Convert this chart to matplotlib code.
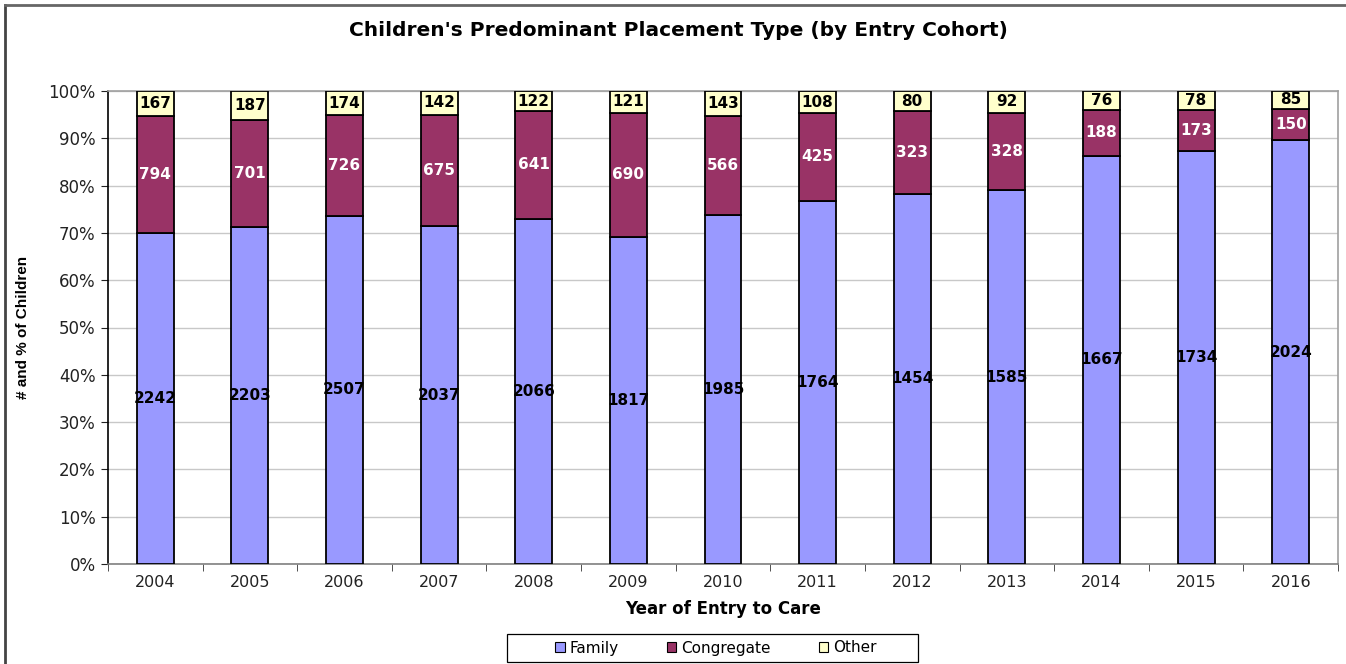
import matplotlib
matplotlib.use("Agg")
import matplotlib.pyplot as plt
from matplotlib.lines import Line2D
from matplotlib.patches import Rectangle
from matplotlib.ticker import FuncFormatter, FixedLocator
import numpy as np

plt.rcParams['font.family'] = ['DejaVu Sans']

years = ["2004", "2005", "2006", "2007", "2008", "2009", "2010",
         "2011", "2012", "2013", "2014", "2015", "2016"]
family = [2242, 2203, 2507, 2037, 2066, 1817, 1985, 1764, 1454, 1585, 1667, 1734, 2024]
congregate = [794, 701, 726, 675, 641, 690, 566, 425, 323, 328, 188, 173, 150]
other = [167, 187, 174, 142, 122, 121, 143, 108, 80, 92, 76, 78, 85]

series = [("Family", family, "#9999FF", "black"),
          ("Congregate", congregate, "#993366", "white"),
          ("Other", other, "#FFFFCC", "black")]

counts = np.array([family, congregate, other], dtype=float)
totals = counts.sum(axis=0)
pct = counts / totals

fig = plt.figure(figsize=(13.46, 6.64), dpi=100)
ax = fig.add_axes([108/1346, 1 - 564/664, (1338 - 108)/1346, (564 - 91)/664])

x = np.arange(len(years))
bottom = np.zeros(len(years))
for i, (name, vals, color, tcolor) in enumerate(series):
    ax.bar(x, pct[i], width=0.39, bottom=bottom, color=color,
           edgecolor="black", linewidth=1.3, label=name, zorder=3)
    for xi, b, h, v in zip(x, bottom, pct[i], vals):
        ax.text(xi, b + h / 2, str(v), ha="center", va="center",
                fontsize=11, fontweight="bold", color=tcolor, zorder=4)
    bottom += pct[i]

ax.set_xlim(-0.5, len(years) - 0.5)
ax.set_ylim(0, 1)
ax.set_yticks(np.arange(0, 1.01, 0.1))
ax.yaxis.set_major_formatter(FuncFormatter(lambda v, p: f"{v*100:.0f}%"))
ax.set_xticks(x)
ax.set_xticklabels(years)
ax.xaxis.set_minor_locator(FixedLocator(np.arange(-0.5, len(years), 1.0)))
ax.tick_params(axis="x", which="major", length=0, labelsize=11.5, pad=8, colors="#222222")
ax.tick_params(axis="x", which="minor", length=5, color="#333333")
ax.tick_params(axis="y", length=5, labelsize=12, pad=4, colors="#222222")
ax.grid(axis="y", color="#c8c8c8", linewidth=1, zorder=0)

ax.spines["left"].set_color("black")
ax.spines["bottom"].set_color("#808080")
ax.spines["top"].set_color("#a0a0a0")
ax.spines["right"].set_color("#a0a0a0")
for s in ax.spines.values():
    s.set_linewidth(1.2)

fig.text(678/1346, 1 - 31/664, "Children's Predominant Placement Type (by Entry Cohort)",
         ha="center", va="center", fontsize=14.5, fontweight="bold")
ax.set_xlabel("Year of Entry to Care", fontsize=12, fontweight="bold", labelpad=7)
ax.set_ylabel("# and % of Children", fontsize=11, fontweight="bold", labelpad=13,
              family=["Liberation Sans Narrow", "Liberation Sans"])

# legend box drawn separately so its padding can be wider than the entries
fig.add_artist(Rectangle((507/1346, 2/664), 411/1346, 28/664, transform=fig.transFigure,
                         facecolor="white", edgecolor="black", linewidth=0.9))
leg = fig.legend(loc="center", bbox_to_anchor=(716/1346, 16/664), ncol=3,
                 fontsize=11, frameon=False,
                 handlelength=0.6, handleheight=0.6, handletextpad=0.3,
                 columnspacing=3.2, borderpad=0.0)
for h in leg.legend_handles:
    h.set_linewidth(0.8)

fig.add_artist(Line2D([5/1346, 5/1346], [0, 1 - 5/664], color="#444444", linewidth=2))
fig.add_artist(Line2D([5/1346, 1], [1 - 5/664, 1 - 5/664], color="#666666", linewidth=2))

fig.savefig("out.png", dpi=100)
